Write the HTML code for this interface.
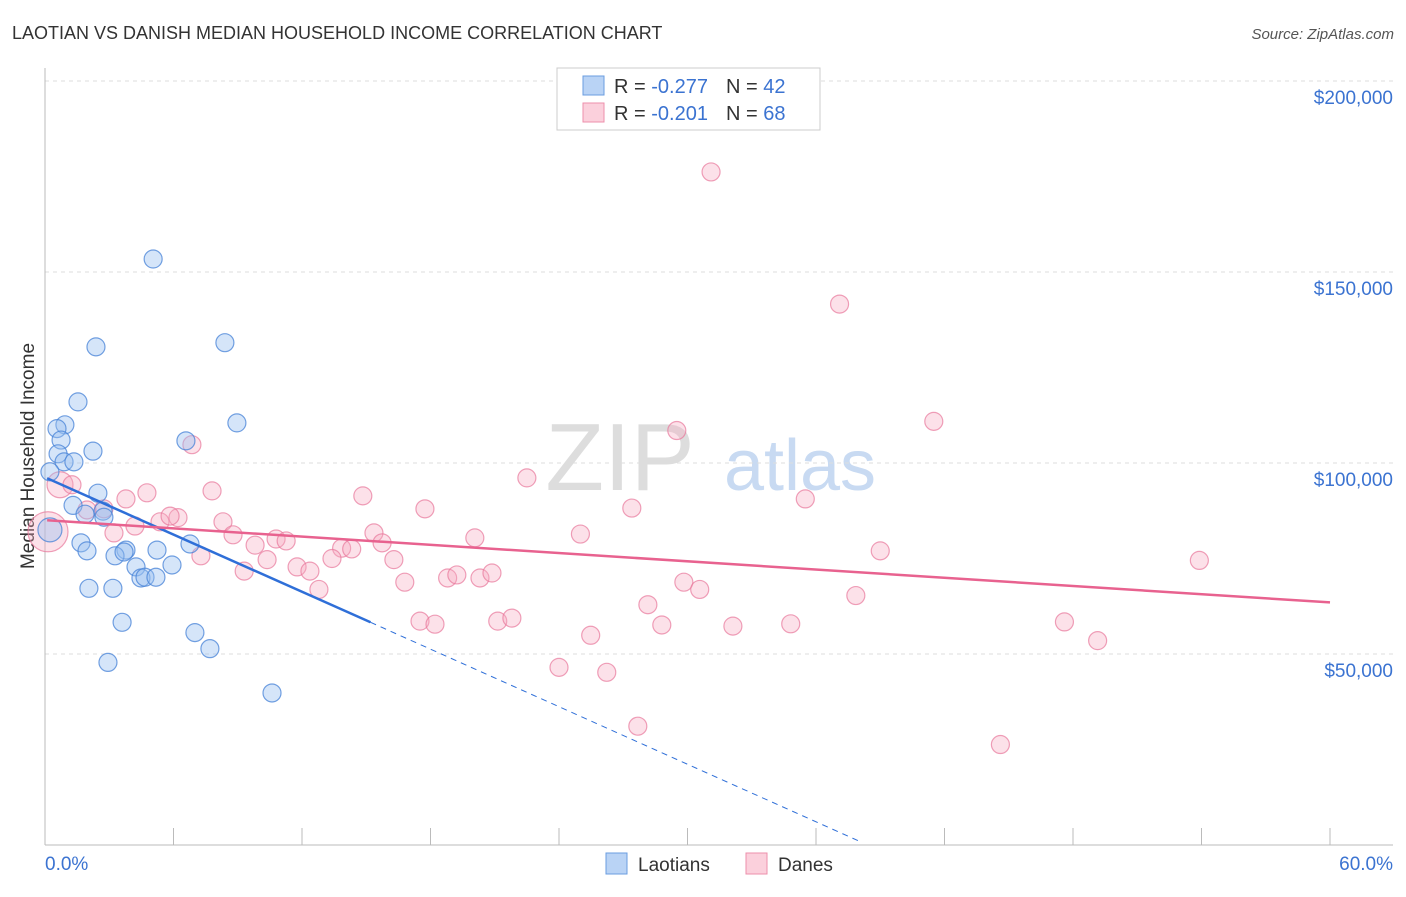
<!DOCTYPE html>
<html><head><meta charset="utf-8"><style>
body{margin:0;background:#fff;font-family:"Liberation Sans",sans-serif;}
svg text{font-family:"Liberation Sans",sans-serif;}
</style></head><body>
<svg width="1406" height="892">
<text x="12" y="39" font-size="18" fill="#333">LAOTIAN VS DANISH MEDIAN HOUSEHOLD INCOME CORRELATION CHART</text>
<text x="1394" y="39" font-size="15" fill="#555" font-style="italic" text-anchor="end">Source: ZipAtlas.com</text>
<text x="620" y="490" font-size="96" fill="#ddd" font-family="Liberation Serif" text-anchor="middle">ZIP</text>
<text x="800" y="490" font-size="72" fill="#c8daf2" text-anchor="middle">atlas</text>
<g id="grid"></g>
<line x1="45" y1="68" x2="45" y2="845" stroke="#bbb"/>
<line x1="45" y1="845" x2="1393" y2="845" stroke="#bbb"/>
<text x="34" y="456" font-size="19" fill="#333" text-anchor="middle" transform="rotate(-90 34 456)">Median Household Income</text>
<text x="45" y="870" font-size="19" fill="#3b73d1">0.0%</text>
<text x="1393" y="870" font-size="19" fill="#3b73d1" text-anchor="end">60.0%</text>
<g id="marks"></g>
<g>
<rect x="557" y="68" width="263" height="62" fill="#fff" stroke="#ccc"/>
<rect x="583" y="76" width="21" height="19" fill="#b9d3f5" stroke="#6a9ce0"/>
<rect x="583" y="103" width="21" height="19" fill="#fbd0dc" stroke="#ee8fab"/>
<text x="614" y="93" font-size="20" fill="#333">R = <tspan fill="#3b73d1">-0.277</tspan><tspan dx="18">N = </tspan><tspan fill="#3b73d1">42</tspan></text>
<text x="614" y="120" font-size="20" fill="#333">R = <tspan fill="#3b73d1">-0.201</tspan><tspan dx="18">N = </tspan><tspan fill="#3b73d1">68</tspan></text>
</g>
<g>
<rect x="606" y="853" width="21" height="21" fill="#b9d3f5" stroke="#6a9ce0"/>
<text x="638" y="871" font-size="19" fill="#333">Laotians</text>
<rect x="746" y="853" width="21" height="21" fill="#fbd0dc" stroke="#ee8fab"/>
<text x="778" y="871" font-size="19" fill="#333">Danes</text>
</g>
</svg>
<script>
const yTicks=[50000,100000,150000,200000];
const yTickLabels=["$50,000","$100,000","$150,000","$200,000"];
const xTicks=[0,6,12,18,24,30,36,42,48,54,60];
const laoX=[5.05,2.38,8.4,1.54,8.96,0.93,0.56,0.75,6.58,0.61,2.24,0.89,1.35,0.23,2.47,1.31,1.87,2.71,2.75,0.23,1.68,1.96,3.78,5.23,3.27,3.69,4.25,5.93,6.77,4.48,4.67,5.18,2.05,3.17,3.6,7.0,7.7,2.94,10.6];
const laoY=[153400,130400,131500,116000,110500,110000,109000,106000,105800,102400,103100,100300,100300,97700,92100,88900,86600,87400,85800,82500,79100,77000,77200,77200,75700,76700,72800,73300,78800,69900,70100,70100,67200,67200,58300,55600,51400,47800,39800];
const laoR=[9,9,9,9,9,9,9,9,9,9,9,9,9,9,9,9,9,9,9,12,9,9,9,9,9,9,9,9,9,9,9,9,9,9,9,9,9,9,9];
const daneX=[31.1,37.1,41.5,29.5,6.86,22.5,0.7,1.26,14.84,35.5,4.76,3.78,7.8,17.74,27.4,2.75,1.96,5.37,6.21,5.84,8.31,4.2,3.22,8.78,20.07,25.0,15.36,15.74,9.81,10.79,11.26,13.85,14.32,16.29,39.0,7.28,10.37,11.77,12.37,9.3,13.4,53.9,18.8,19.23,20.31,20.87,16.8,29.83,30.57,12.79,37.86,28.15,17.51,18.21,21.14,21.8,28.8,32.12,34.82,47.6,25.48,49.15,24.0,26.23,27.68,44.61,0.14];
const daneY=[176200,141600,110900,108500,104800,96100,94300,94300,91400,90600,92200,90600,92700,88000,88200,88000,87700,84600,85700,86100,84600,83500,81700,81200,80400,81400,81700,79100,78500,80100,79600,77700,77500,74700,77000,75700,74700,72800,71700,71700,75000,74500,69900,70700,69900,71200,68800,68800,66900,66900,65300,62900,58600,57800,58600,59400,57600,57300,57900,58400,54900,53500,46500,45200,31100,26300,82000];
const daneR=[9,9,9,9,9,9,13,9,9,9,9,9,9,9,9,9,9,9,9,9,9,9,9,9,9,9,9,9,9,9,9,9,9,9,9,9,9,9,9,9,9,9,9,9,9,9,9,9,9,9,9,9,9,9,9,9,9,9,9,9,9,9,9,9,9,9,20];
const laoTrend=[0.1,96000,15.2,58300];
const laoDashEnd=[38.1,800];
const daneTrend=[0.1,85000,60,63500];
const X0=45,X1=1330,YB=845,PX_PER=191/50000;
const sx=v=>X0+v/60*(X1-X0), sy=v=>YB-v*PX_PER;
const NS="http://www.w3.org/2000/svg";
function mk(tag,attrs,parent){const e=document.createElementNS(NS,tag);for(const k in attrs)e.setAttribute(k,attrs[k]);parent.appendChild(e);return e;}
const grid=document.getElementById('grid'),marks=document.getElementById('marks');
yTicks.forEach((t,i)=>{
 const l=mk('line',{x1:45,x2:1393,y1:sy(t),y2:sy(t),stroke:'#ddd','stroke-dasharray':'4,4'},grid);
 
 
 const tx=mk('text',{x:1393,y:sy(t)+23,'font-size':19,fill:'#3b73d1','text-anchor':'end'},grid);
 tx.textContent=yTickLabels[i];
 
 
});
xTicks.forEach(t=>{
 const l=mk('line',{x1:sx(t),x2:sx(t),y1:828,y2:845,stroke:'#bbb'},grid);
 
 
});
daneX.forEach((x,i)=>{
 const c=mk('circle',{cx:sx(x),cy:sy(daneY[i]),r:daneR[i],fill:'rgba(246,170,192,0.35)',stroke:'rgba(232,120,155,0.7)','stroke-width':1.2},marks);
 
 
});
laoX.forEach((x,i)=>{
 const c=mk('circle',{cx:sx(x),cy:sy(laoY[i]),r:laoR[i],fill:'rgba(150,190,240,0.4)',stroke:'rgba(70,130,215,0.75)','stroke-width':1.2},marks);
 
 
});
let l1=mk('line',{x1:sx(laoTrend[0]),y1:sy(laoTrend[1]),x2:sx(laoTrend[2]),y2:sy(laoTrend[3]),stroke:'#2f6fd8','stroke-width':2.5},marks);


let l2=mk('line',{x1:sx(laoTrend[2]),y1:sy(laoTrend[3]),x2:sx(laoDashEnd[0]),y2:sy(laoDashEnd[1]),stroke:'#2f6fd8','stroke-width':1,'stroke-dasharray':'6,5'},marks);


let l3=mk('line',{x1:sx(daneTrend[0]),y1:sy(daneTrend[1]),x2:sx(daneTrend[2]),y2:sy(daneTrend[3]),stroke:'#e8628f','stroke-width':2.5},marks);


</script>
</body></html>
